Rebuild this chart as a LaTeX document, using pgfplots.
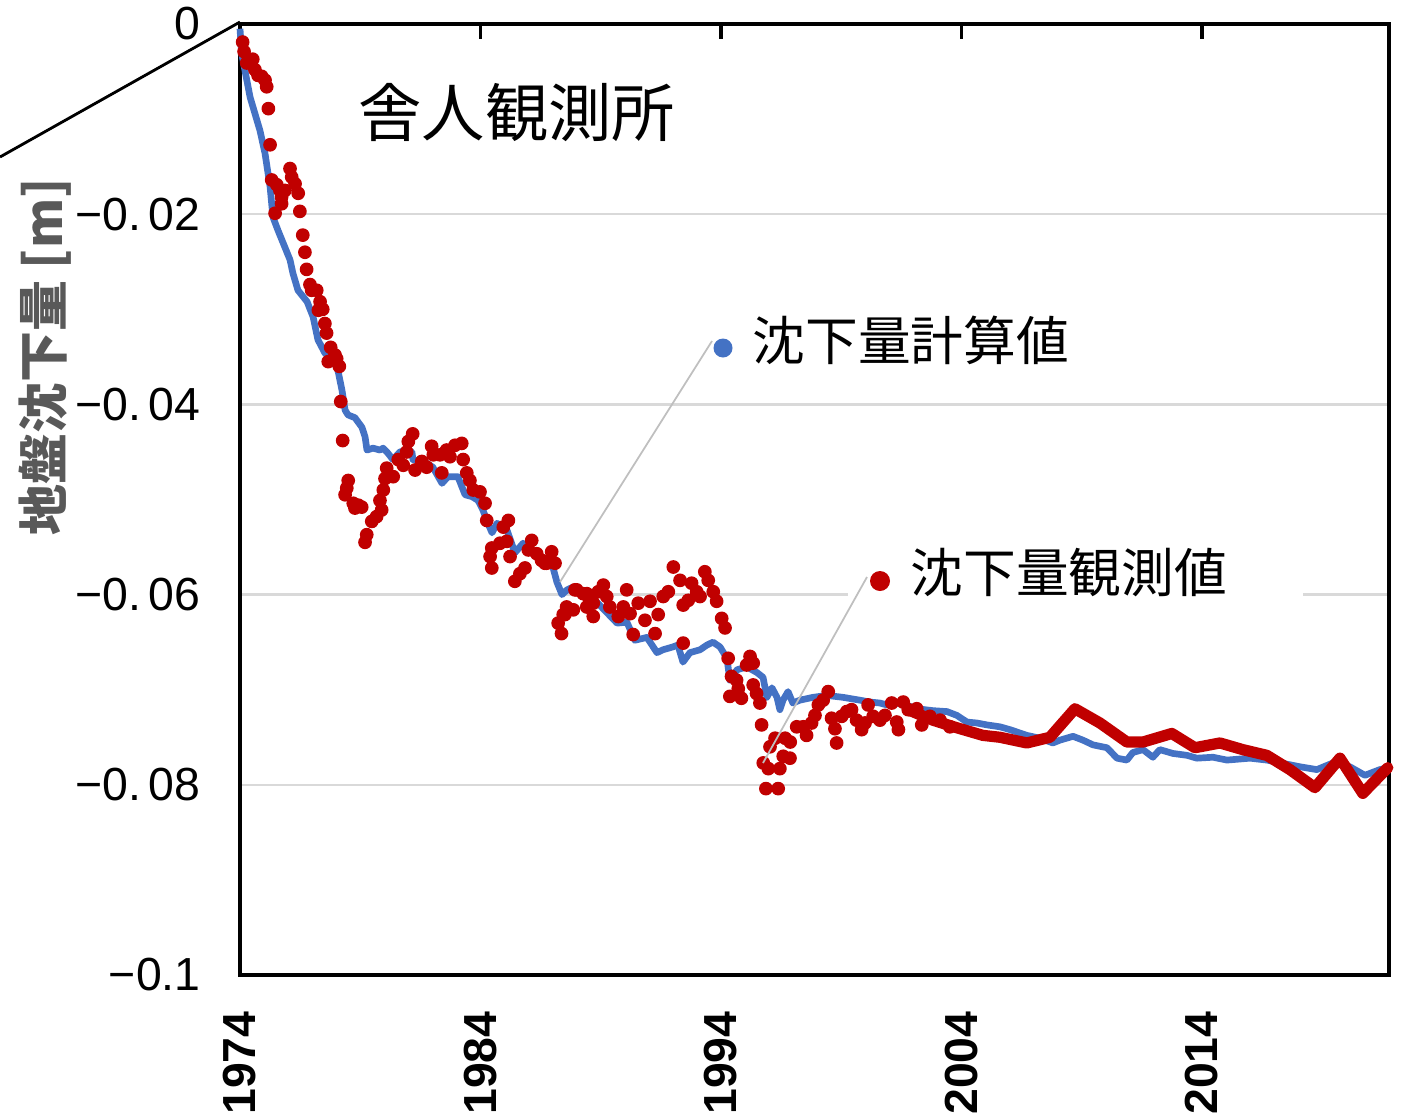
\documentclass[border=0pt]{standalone}
\usepackage{pgfplots}
\pgfplotsset{compat=1.18}
\usepackage{fontspec}
\setmainfont{Noto Sans CJK JP}
\newfontfamily\numfont{Liberation Sans}
\definecolor{calc}{HTML}{4472C4}
\definecolor{obs}{HTML}{C00000}
\definecolor{gridc}{HTML}{D9D9D9}
\definecolor{leader}{HTML}{BFBFBF}
\definecolor{labgray}{HTML}{595959}
\begin{document}
\begin{tikzpicture}
\useasboundingbox (0,0) rectangle (14.03,11.13);
\begin{axis}[
  at={(2.40cm,1.38cm)}, anchor=south west,
  scale only axis, width=11.49cm, height=9.51cm,
  xmin=1974, xmax=2021.78, ymin=-0.1, ymax=0,
  clip=false,
  axis line style={line width=0.9pt, black},
  xtick={1974,1984,1994,2004,2014},
  xticklabels={1974,1984,1994,2004,2014},
  xtick pos=right, xticklabel pos=left,
  tick align=inside,
  major tick length=0.15cm,
  xtick style={line width=0.9pt, black},
  xticklabel style={rotate=90, anchor=east, font=\numfont\bfseries\fontsize{13.2}{15}\selectfont},
  xticklabel shift=0.24cm,
  ytick={-0.1,-0.08,-0.06,-0.04,-0.02,0},
  yticklabels={−0.1,−0.\,08,−0.\,06,−0.\,04,−0.\,02,0},
  ytick pos=left,
  ytick style={draw=none},
  yticklabel style={anchor=east, font=\numfont\fontsize{13.2}{15}\selectfont},
  yticklabel shift=0.27cm,
  ymajorgrids, grid style={gridc, line width=0.7pt},
]
% calculated subsidence
\addplot[calc, line width=1.9pt, line join=round, mark=none] coordinates {
(1974.00,-0.0005) (1974.07,-0.0031) (1974.42,-0.0077) (1974.83,-0.0112) (1975.04,-0.0136)
(1975.25,-0.0171) (1975.37,-0.0203) (1975.58,-0.0217) (1975.79,-0.0230) (1976.08,-0.0248)
(1976.20,-0.0262) (1976.41,-0.0280) (1976.79,-0.0292) (1977.04,-0.0308) (1977.24,-0.0332)
(1977.53,-0.0346) (1977.87,-0.0353) (1978.07,-0.0364) (1978.24,-0.0385) (1978.37,-0.0406)
(1978.49,-0.0411) (1978.78,-0.0414) (1979.07,-0.0424) (1979.20,-0.0434) (1979.28,-0.0448)
(1979.53,-0.0446) (1979.82,-0.0448) (1979.95,-0.0446) (1980.11,-0.0450) (1980.36,-0.0458)
(1980.65,-0.0450) (1980.94,-0.0448) (1981.15,-0.0450) (1981.19,-0.0458) (1981.78,-0.0462)
(1982.02,-0.0466) (1982.40,-0.0483) (1982.65,-0.0476) (1983.06,-0.0476) (1983.36,-0.0495)
(1983.65,-0.0497) (1983.90,-0.0501) (1984.10,-0.0511) (1984.31,-0.0525) (1984.48,-0.0535)
(1984.69,-0.0525) (1985.10,-0.0532) (1985.35,-0.0550) (1985.43,-0.0556) (1985.77,-0.0546)
(1986.18,-0.0556) (1987.01,-0.0571) (1987.18,-0.0587) (1987.39,-0.0600) (1987.60,-0.0595)
(1987.85,-0.0592) (1988.84,-0.0608) (1989.26,-0.0619) (1989.68,-0.0630) (1990.09,-0.0629)
(1990.42,-0.0648) (1990.92,-0.0645) (1991.34,-0.0661) (1991.59,-0.0658) (1992.00,-0.0655)
(1992.21,-0.0653) (1992.42,-0.0671) (1992.71,-0.0661) (1993.13,-0.0658) (1993.42,-0.0653)
(1993.67,-0.0650) (1993.96,-0.0655) (1994.25,-0.0667) (1994.37,-0.0690) (1994.67,-0.0679)
(1995.08,-0.0676) (1995.50,-0.0682) (1995.75,-0.0687) (1995.91,-0.0708) (1996.12,-0.0698)
(1996.33,-0.0708) (1996.45,-0.0721) (1996.58,-0.0711) (1996.79,-0.0702) (1996.99,-0.0714)
(1997.28,-0.0711) (1997.83,-0.0708) (1998.41,-0.0706) (1999.07,-0.0708) (1999.78,-0.0711)
(2000.20,-0.0713) (2000.61,-0.0714) (2000.90,-0.0716) (2001.44,-0.0714) (2002.15,-0.0720)
(2002.81,-0.0722) (2003.40,-0.0723) (2003.81,-0.0727) (2004.23,-0.0734) (2004.64,-0.0735)
(2005.06,-0.0737) (2005.60,-0.0739) (2006.02,-0.0742) (2006.72,-0.0748) (2007.26,-0.0751)
(2007.80,-0.0756) (2008.10,-0.0753) (2008.64,-0.0749) (2009.05,-0.0753) (2009.47,-0.0758)
(2010.05,-0.0761) (2010.47,-0.0772) (2010.88,-0.0774) (2011.13,-0.0766) (2011.55,-0.0763)
(2011.96,-0.0771) (2012.25,-0.0763) (2012.79,-0.0767) (2013.38,-0.0769) (2013.79,-0.0772)
(2014.46,-0.0771) (2015.04,-0.0774) (2016.00,-0.0772) (2016.70,-0.0774) (2018.07,-0.0781)
(2018.78,-0.0784) (2019.45,-0.0777) (2020.15,-0.0781) (2020.78,-0.0790) (2021.40,-0.0784)
(2021.73,-0.0782)
};
% observed subsidence (dots)
\addplot[only marks, mark=*, mark size=1.75pt, color=obs, mark options={draw=obs, fill=obs}] coordinates {
(1974.11,-0.0019) (1974.17,-0.0029) (1974.28,-0.0041) (1974.53,-0.0037) (1974.62,-0.0048)
(1974.75,-0.0054) (1974.90,-0.0055) (1975.04,-0.0059) (1975.11,-0.0066) (1975.18,-0.0089)
(1975.25,-0.0127) (1975.32,-0.0164) (1975.53,-0.0169) (1975.66,-0.0175) (1975.73,-0.0182)
(1975.87,-0.0175) (1976.08,-0.0152) (1976.15,-0.0161) (1976.29,-0.0168) (1976.42,-0.0178)
(1975.46,-0.0199) (1975.73,-0.0189) (1976.49,-0.0197) (1976.61,-0.0222) (1976.70,-0.0240)
(1976.77,-0.0258) (1976.91,-0.0274) (1976.98,-0.0280) (1977.19,-0.0280) (1977.33,-0.0292)
(1977.26,-0.0301) (1977.44,-0.0300) (1977.53,-0.0315) (1977.60,-0.0325) (1977.77,-0.0340)
(1977.95,-0.0348) (1977.67,-0.0355) (1978.02,-0.0352) (1978.13,-0.0360) (1978.19,-0.0397)
(1978.27,-0.0438) (1978.50,-0.0480) (1978.44,-0.0488) (1978.37,-0.0495) (1978.71,-0.0504)
(1978.92,-0.0506) (1979.06,-0.0508) (1978.78,-0.0509) (1979.27,-0.0537) (1979.20,-0.0545)
(1979.48,-0.0523) (1979.68,-0.0518) (1979.89,-0.0511) (1979.82,-0.0501) (1979.96,-0.0490)
(1980.10,-0.0467) (1980.03,-0.0478) (1980.37,-0.0476) (1980.58,-0.0458) (1980.79,-0.0464)
(1980.93,-0.0450) (1981.00,-0.0439) (1981.18,-0.0431) (1981.28,-0.0469) (1981.56,-0.0460)
(1981.76,-0.0466) (1981.97,-0.0444) (1982.04,-0.0453) (1982.32,-0.0453) (1982.59,-0.0448)
(1982.73,-0.0455) (1982.94,-0.0443) (1983.22,-0.0441) (1983.28,-0.0458) (1982.39,-0.0472)
(1983.43,-0.0472) (1983.56,-0.0480) (1983.70,-0.0490) (1983.98,-0.0492) (1984.19,-0.0504)
(1984.26,-0.0522) (1984.47,-0.0551) (1984.40,-0.0560) (1984.47,-0.0572) (1984.81,-0.0546)
(1985.09,-0.0544) (1985.16,-0.0522) (1984.95,-0.0529) (1985.23,-0.0560) (1985.43,-0.0586)
(1985.64,-0.0578) (1985.85,-0.0572) (1985.99,-0.0553) (1986.13,-0.0543) (1986.34,-0.0557)
(1986.54,-0.0564) (1986.75,-0.0567) (1986.96,-0.0555) (1987.10,-0.0567) (1986.68,-0.0567)
(1988.00,-0.0595) (1988.42,-0.0599) (1988.69,-0.0609) (1987.58,-0.0613) (1987.44,-0.0621)
(1987.23,-0.0630) (1987.37,-0.0641) (1987.51,-0.0621) (1987.86,-0.0616) (1987.93,-0.0595)
(1988.27,-0.0599) (1988.48,-0.0602) (1988.42,-0.0613) (1988.69,-0.0623) (1988.90,-0.0597)
(1989.11,-0.0590) (1989.25,-0.0602) (1989.38,-0.0613) (1989.73,-0.0623) (1989.94,-0.0613)
(1990.08,-0.0595) (1990.22,-0.0620) (1990.35,-0.0642) (1990.56,-0.0609) (1990.84,-0.0627)
(1991.05,-0.0607) (1991.26,-0.0641) (1991.39,-0.0621) (1991.60,-0.0602) (1991.81,-0.0597)
(1992.02,-0.0571) (1992.30,-0.0585) (1992.43,-0.0611) (1992.64,-0.0606) (1992.78,-0.0588)
(1992.99,-0.0597) (1993.13,-0.0602) (1993.33,-0.0576) (1993.47,-0.0585) (1993.68,-0.0597)
(1993.82,-0.0607) (1994.03,-0.0625) (1994.17,-0.0635) (1992.43,-0.0651) (1994.30,-0.0667)
(1994.44,-0.0686) (1994.65,-0.0690) (1994.72,-0.0699) (1994.37,-0.0707) (1994.85,-0.0709)
(1995.07,-0.0674) (1995.21,-0.0665) (1995.34,-0.0672) (1995.34,-0.0695) (1995.48,-0.0704)
(1995.62,-0.0714) (1995.69,-0.0737) (1995.76,-0.0777) (1995.97,-0.0783) (1995.87,-0.0804)
(1996.38,-0.0804) (1996.04,-0.0760) (1996.25,-0.0751) (1996.45,-0.0783) (1996.59,-0.0770)
(1996.87,-0.0772) (1996.67,-0.0751) (1996.88,-0.0755) (1997.15,-0.0739) (1997.42,-0.0739)
(1997.56,-0.0748) (1997.77,-0.0735) (1997.91,-0.0727) (1998.05,-0.0716) (1998.25,-0.0711)
(1998.46,-0.0702) (1998.60,-0.0730) (1998.74,-0.0741) (1998.81,-0.0756) (1999.02,-0.0728)
(1999.23,-0.0723) (1999.43,-0.0721) (1999.64,-0.0732) (1999.85,-0.0742) (1999.99,-0.0735)
(2000.12,-0.0716) (2000.33,-0.0728) (2000.61,-0.0732) (2000.82,-0.0727) (2001.10,-0.0714)
(2001.31,-0.0734) (2001.38,-0.0742) (2001.58,-0.0713) (2001.79,-0.0721) (2002.14,-0.0720)
(2002.35,-0.0737) (2002.69,-0.0728) (2003.11,-0.0732) (2003.52,-0.0739)
};
% observed subsidence (annual line)
\addplot[obs, line width=3.2pt, line join=round, line cap=round, mark=none] coordinates {
(2001.78,-0.0721) (2002.81,-0.0732) (2003.81,-0.0740) (2004.89,-0.0748) (2005.60,-0.0750)
(2006.72,-0.0756) (2007.68,-0.0750) (2008.72,-0.0720) (2009.76,-0.0735) (2010.88,-0.0755)
(2011.55,-0.0755) (2012.75,-0.0746) (2013.71,-0.0761) (2014.75,-0.0756) (2015.70,-0.0763)
(2016.70,-0.0769) (2017.66,-0.0784) (2018.70,-0.0803) (2019.74,-0.0772) (2020.69,-0.0809)
(2021.73,-0.0782)
};
\end{axis}
% decorative diagonal line at top-left
\draw[line width=0.8pt, black] (0,9.56) -- (2.40,10.91);
% y-axis title
\node[rotate=90, text=labgray, font=\bfseries\fontsize{14.5}{16}\selectfont] at (0.45,7.56) {地盤沈下量 [m]};
% station name
\node[anchor=west, inner sep=0pt, font=\fontsize{18}{20}\selectfont] at (3.58,10.00) {舎人観測所};
% white box behind label over gridline
\fill[white] (8.48,5.13) rectangle (13.03,5.23);
% leader lines
\draw[leader, line width=0.5pt] (5.60,5.31) -- (7.12,7.72);
\draw[leader, line width=0.5pt] (7.63,3.50) -- (8.67,5.36);
% labels
\fill[calc] (7.23,7.65) circle (0.095);
\node[anchor=west, inner sep=0pt, font=\fontsize{15}{18}\selectfont] at (7.52,7.73) {沈下量計算値};
\fill[obs] (8.80,5.32) circle (0.10);
\node[anchor=west, inner sep=0pt, font=\fontsize{15}{18}\selectfont] at (9.10,5.40) {沈下量観測値};
\end{tikzpicture}
\end{document}
